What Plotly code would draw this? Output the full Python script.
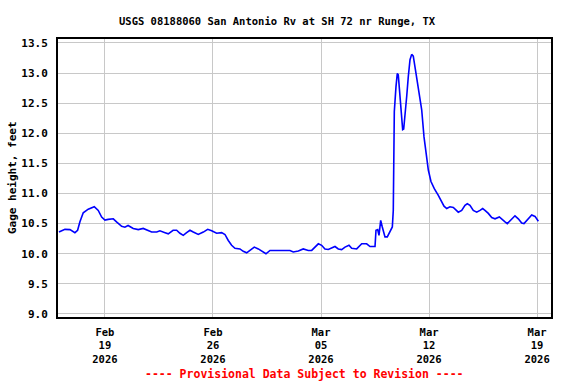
import plotly.graph_objects as go

times = [
    "2026-02-16 00:30", "2026-02-16 09:48", "2026-02-16 17:36", "2026-02-17 01:18", "2026-02-17 05:30",
    "2026-02-17 09:06", "2026-02-17 14:15", "2026-02-17 22:00", "2026-02-18 07:24", "2026-02-18 13:36",
    "2026-02-18 18:54", "2026-02-19 00:00", "2026-02-19 05:00", "2026-02-19 13:00", "2026-02-19 18:00",
    "2026-02-20 02:00", "2026-02-20 07:00", "2026-02-20 12:00", "2026-02-20 20:00", "2026-02-21 03:48",
    "2026-02-21 11:30", "2026-02-21 17:00", "2026-02-22 00:36", "2026-02-22 08:30", "2026-02-22 13:30",
    "2026-02-22 21:30", "2026-02-23 02:30", "2026-02-23 10:00", "2026-02-23 15:30", "2026-02-23 20:40",
    "2026-02-24 01:48", "2026-02-24 07:00", "2026-02-24 12:15", "2026-02-24 17:20", "2026-02-25 01:06",
    "2026-02-25 09:00", "2026-02-25 15:45", "2026-02-25 22:00", "2026-02-26 05:42", "2026-02-26 13:30",
    "2026-02-26 18:40", "2026-02-26 23:48", "2026-02-27 05:00", "2026-02-27 10:10", "2026-02-27 18:00",
    "2026-02-27 23:06", "2026-02-28 04:24", "2026-02-28 09:30", "2026-02-28 16:15", "2026-02-28 22:30",
    "2026-03-01 03:42", "2026-03-01 10:25", "2026-03-01 16:40", "2026-03-02 00:24", "2026-03-02 08:10",
    "2026-03-02 16:00", "2026-03-02 23:42", "2026-03-03 04:54", "2026-03-03 12:45", "2026-03-03 20:25",
    "2026-03-04 04:12", "2026-03-04 09:30", "2026-03-04 14:40", "2026-03-04 19:50", "2026-03-05 01:00",
    "2026-03-05 06:10", "2026-03-05 11:20", "2026-03-05 16:35", "2026-03-05 21:45", "2026-03-06 02:54",
    "2026-03-06 08:10", "2026-03-06 13:20", "2026-03-06 19:30", "2026-03-06 23:42", "2026-03-07 07:30",
    "2026-03-07 15:20", "2026-03-07 23:00", "2026-03-08 04:12", "2026-03-08 12:00", "2026-03-08 13:30",
    "2026-03-08 16:10", "2026-03-08 18:10", "2026-03-08 20:50", "2026-03-08 23:18", "2026-03-09 03:30",
    "2026-03-09 07:05", "2026-03-09 11:20", "2026-03-09 14:55", "2026-03-09 16:25", "2026-03-09 17:10",
    "2026-03-09 18:00", "2026-03-09 20:35", "2026-03-09 22:36", "2026-03-10 00:10", "2026-03-10 02:50",
    "2026-03-10 05:30", "2026-03-10 07:00", "2026-03-10 08:35", "2026-03-10 10:35", "2026-03-10 13:15",
    "2026-03-10 15:45", "2026-03-10 18:25", "2026-03-10 21:00", "2026-03-10 23:30", "2026-03-11 02:12",
    "2026-03-11 07:20", "2026-03-11 12:35", "2026-03-11 16:10", "2026-03-11 19:20", "2026-03-11 22:54",
    "2026-03-12 03:00", "2026-03-12 08:10", "2026-03-12 14:25", "2026-03-12 19:40", "2026-03-12 23:18",
    "2026-03-13 03:30", "2026-03-13 08:35", "2026-03-13 13:45", "2026-03-13 17:55", "2026-03-13 21:30",
    "2026-03-14 02:48", "2026-03-14 07:55", "2026-03-14 11:30", "2026-03-14 15:40", "2026-03-14 20:48",
    "2026-03-15 02:06", "2026-03-15 07:15", "2026-03-15 11:25", "2026-03-15 15:00", "2026-03-15 20:12",
    "2026-03-16 01:30", "2026-03-16 06:35", "2026-03-16 13:20", "2026-03-16 17:00", "2026-03-16 22:12",
    "2026-03-17 01:42", "2026-03-17 07:00", "2026-03-17 13:40", "2026-03-17 18:50", "2026-03-18 00:06",
    "2026-03-18 03:40", "2026-03-18 07:55", "2026-03-18 15:40", "2026-03-18 20:50", "2026-03-19 02:00",
]

gage_height = [
    10.36, 10.405, 10.40, 10.35, 10.39,
    10.53, 10.68, 10.74, 10.78, 10.72,
    10.61, 10.56, 10.57, 10.58, 10.53,
    10.455, 10.44, 10.47, 10.42, 10.40,
    10.42, 10.40, 10.36, 10.36, 10.38,
    10.35, 10.33, 10.39, 10.39, 10.34,
    10.305, 10.35, 10.39, 10.36, 10.32,
    10.36, 10.405, 10.38, 10.34, 10.35,
    10.32, 10.22, 10.14, 10.09, 10.08,
    10.04, 10.015, 10.055, 10.11, 10.08,
    10.04, 10.00, 10.055, 10.055, 10.045,
    10.055, 10.055, 10.03, 10.045, 10.08,
    10.055, 10.055, 10.11, 10.165, 10.14,
    10.08, 10.07, 10.09, 10.12, 10.08,
    10.07, 10.11, 10.14, 10.09, 10.08,
    10.165, 10.165, 10.12, 10.12, 10.39,
    10.40, 10.305, 10.555, 10.445, 10.28,
    10.28, 10.36, 10.445, 10.72, 11.50,
    12.36, 12.77, 12.99, 12.97, 12.61,
    12.22, 12.06, 12.07, 12.27, 12.61,
    12.94, 13.22, 13.31, 13.28, 13.10,
    12.72, 12.39, 11.94, 11.66, 11.39,
    11.20, 11.08, 10.97, 10.85, 10.79,
    10.75, 10.78, 10.77, 10.72, 10.69,
    10.72, 10.805, 10.83, 10.805, 10.72,
    10.69, 10.72, 10.75, 10.72, 10.67,
    10.60, 10.58, 10.61, 10.57, 10.53,
    10.50, 10.555, 10.63, 10.58, 10.51,
    10.50, 10.555, 10.645, 10.62, 10.54,
]

tick_dates = ["2026-02-19", "2026-02-26", "2026-03-05", "2026-03-12", "2026-03-19"]
tick_labels = ["Feb<br>19<br>2026", "Feb<br>26<br>2026", "Mar<br>05<br>2026",
               "Mar<br>12<br>2026", "Mar<br>19<br>2026"]
y_ticks = [9.0, 9.5, 10.0, 10.5, 11.0, 11.5, 12.0, 12.5, 13.0, 13.5]
y_tick_labels = ["9.0", "9.5", "10.0", "10.5", "11.0", "11.5", "12.0", "12.5", "13.0", "13.5"]

title_text = "USGS 08188060 San Antonio Rv at SH 72 nr Runge, TX"
y_title = "Gage height, feet"
footer_text = "---- Provisional Data Subject to Revision ----"

FONT = "DejaVu Sans Mono"
PLOT_W = 576 - 58 - 25
PLOT_H = 384 - 39 - 67

fig = go.Figure()
fig.add_trace(go.Scatter(
    x=times, y=gage_height, mode="lines",
    line=dict(color="#0000FF", width=1.6),
    showlegend=False,
))

fig.update_layout(
    width=576, height=384,
    margin=dict(l=58, r=25, t=39, b=67, autoexpand=False),
    paper_bgcolor="white", plot_bgcolor="white",
    title=dict(text=title_text, x=0.481, xanchor="center", y=0.944, yanchor="middle",
               font=dict(family=FONT, size=10.5, color="black", weight="bold")),
    xaxis=dict(
        type="date", automargin=False,
        range=["2026-02-15 23:00", "2026-03-19 21:40"],
        tickvals=tick_dates, ticktext=tick_labels,
        showgrid=True, gridcolor="#c8c8c8", gridwidth=1,
        showline=True, linecolor="black", linewidth=2, mirror=True,
        ticks="", ticklabelstandoff=4,
        tickfont=dict(family=FONT, size=10.5, color="black", weight="bold"),
        zeroline=False,
    ),
    yaxis=dict(
        automargin=False,
        range=[8.95, 13.565],
        tickvals=y_ticks, ticktext=y_tick_labels,
        showgrid=True, gridcolor="#c8c8c8", gridwidth=1,
        showline=True, linecolor="black", linewidth=2, mirror=True,
        ticks="", ticklabelstandoff=6,
        tickfont=dict(family=FONT, size=11, color="black", weight="bold"),
        zeroline=False,
    ),
    annotations=[
        dict(text=footer_text, xref="paper", yref="paper", x=0.5, y=-57 / PLOT_H,
             xanchor="center", yanchor="middle", showarrow=False,
             font=dict(family=FONT, size=11.5, color="red", weight="bold")),
        dict(text=y_title, xref="paper", yref="paper", x=-46 / PLOT_W, y=0.5,
             xanchor="center", yanchor="middle", showarrow=False, textangle=-90,
             font=dict(family=FONT, size=11, color="black", weight="bold")),
    ],
)

fig.write_html("out.html", config={"displayModeBar": False},
               post_script="document.body.style.margin='0';document.body.style.overflow='hidden';")
